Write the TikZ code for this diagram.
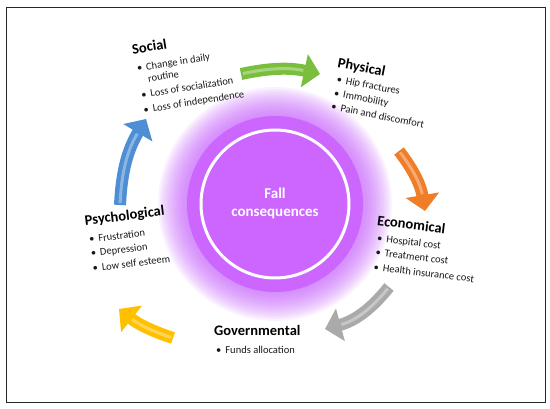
\documentclass[tikz,border=0pt]{standalone}
\usepackage{fontspec}
\setmainfont{Carlito}
\usetikzlibrary{arrows.meta}

\definecolor{discpurple}{RGB}{204,102,255}
\definecolor{glowpurple}{RGB}{196,95,250}
\definecolor{arrgreen}{RGB}{122,190,62}
\definecolor{arrorange}{RGB}{240,125,40}
\definecolor{arrgray}{RGB}{170,170,170}
\definecolor{arryellow}{RGB}{255,192,0}
\definecolor{arrblue}{RGB}{78,142,212}
\definecolor{bodytext}{RGB}{25,25,25}

\newcommand{\blt}[1]{\hspace*{2pt}\textbullet\hspace{4pt}#1}
\newcommand{\bltcont}[1]{\hspace*{2pt}\phantom{\textbullet}\hspace{4pt}#1}
\newcommand{\hd}[1]{{\fontsize{14.5}{16}\selectfont\bfseries\color{black}#1}}

\tikzset{
	grouplabel/.style={anchor=north west, inner sep=0pt, align=left, text=bodytext,
		font=\fontsize{10.5}{13}\selectfont},
	bigarrow/.style={line width=12pt, -{Triangle[length=16pt, width=33pt]}},
	shine/.style={line width=3pt, white, opacity=0.35, shorten >=17pt, shorten <=2pt},
}

\begin{document}
\begin{tikzpicture}[x=1pt, y=1pt]

	\useasboundingbox (0,0) rectangle (550,-409);

	% === FRAME === (((
	\draw [black!85, line width=0.8pt] (6,-7) rectangle (545,-402);
	% )))

	% === CENTRE DISC === (((
	\coordinate (ctr) at (275,-204);
	\foreach \r in {89,91,...,117} \fill [glowpurple, opacity=0.08] (ctr) circle (\r pt);
	\fill [discpurple] (ctr) circle (88pt);
	\draw [white, line width=3pt] (ctr) circle (74pt);
	\node (fall) [text=white, align=center, font=\fontsize{15}{18}\selectfont\bfseries]
		at (275,-203) {Fall\\consequences};
	% )))

	% === ARROWS === (((
	\coordinate (grnA) at (241,-74);  \coordinate (grnB) at (320,-74);
	\coordinate (orgA) at (399,-151); \coordinate (orgB) at (425,-211);
	\coordinate (gryA) at (389,-287); \coordinate (gryB) at (325,-329);
	\coordinate (ylwA) at (173,-338); \coordinate (ylwB) at (119,-309);
	\coordinate (bluA) at (120,-205); \coordinate (bluB) at (146,-119);

	\draw [bigarrow, arrgreen]  (grnA) to [bend left=12] (grnB);
	\draw [bigarrow, arrorange] (orgA) to [bend left=14] (orgB);
	\draw [bigarrow, arrgray]   (gryA) to [bend left=18] (gryB);
	\draw [bigarrow, arryellow] (ylwA) to [bend left=10] (ylwB);
	\draw [bigarrow, arrblue]   (bluA) to [bend left=14] (bluB);

	\draw [shine] (grnA) to [bend left=12] (grnB);
	\draw [shine] (orgA) to [bend left=14] (orgB);
	\draw [shine] (gryA) to [bend left=18] (gryB);
	\draw [shine] (ylwA) to [bend left=10] (ylwB);
	\draw [shine] (bluA) to [bend left=14] (bluB);
	% )))

	% === LABELS === (((
	\node (social) [grouplabel, rotate=9] at (131,-44)
		{\hd{Social}\\[5pt]\blt{Change in daily}\\[-1pt]\bltcont{routine}\\[2pt]\blt{Loss of socialization}\\[2pt]\blt{Loss of independence}};
	\node (physical) [grouplabel, rotate=-11] at (339,-57)
		{\hd{Physical}\\[2pt]\blt{Hip fractures}\\[1pt]\blt{Immobility}\\[1pt]\blt{Pain and discomfort}};
	\node (econ) [grouplabel, rotate=-7] at (378,-215)
		{\hd{Economical}\\[3pt]\blt{Hospital cost}\\[1pt]\blt{Treatment cost}\\[2pt]\blt{Health insurance cost}};
	\node (gov) [grouplabel] at (214,-325)
		{\hd{Governmental}\\[5pt]\blt{Funds allocation}};
	\node (psych) [grouplabel, rotate=7] at (84,-215)
		{\hd{Psychological}\\[5pt]\blt{Frustration}\\[1pt]\blt{Depression}\\[2pt]\blt{Low self esteem}};
	% )))

\end{tikzpicture}
\end{document}
